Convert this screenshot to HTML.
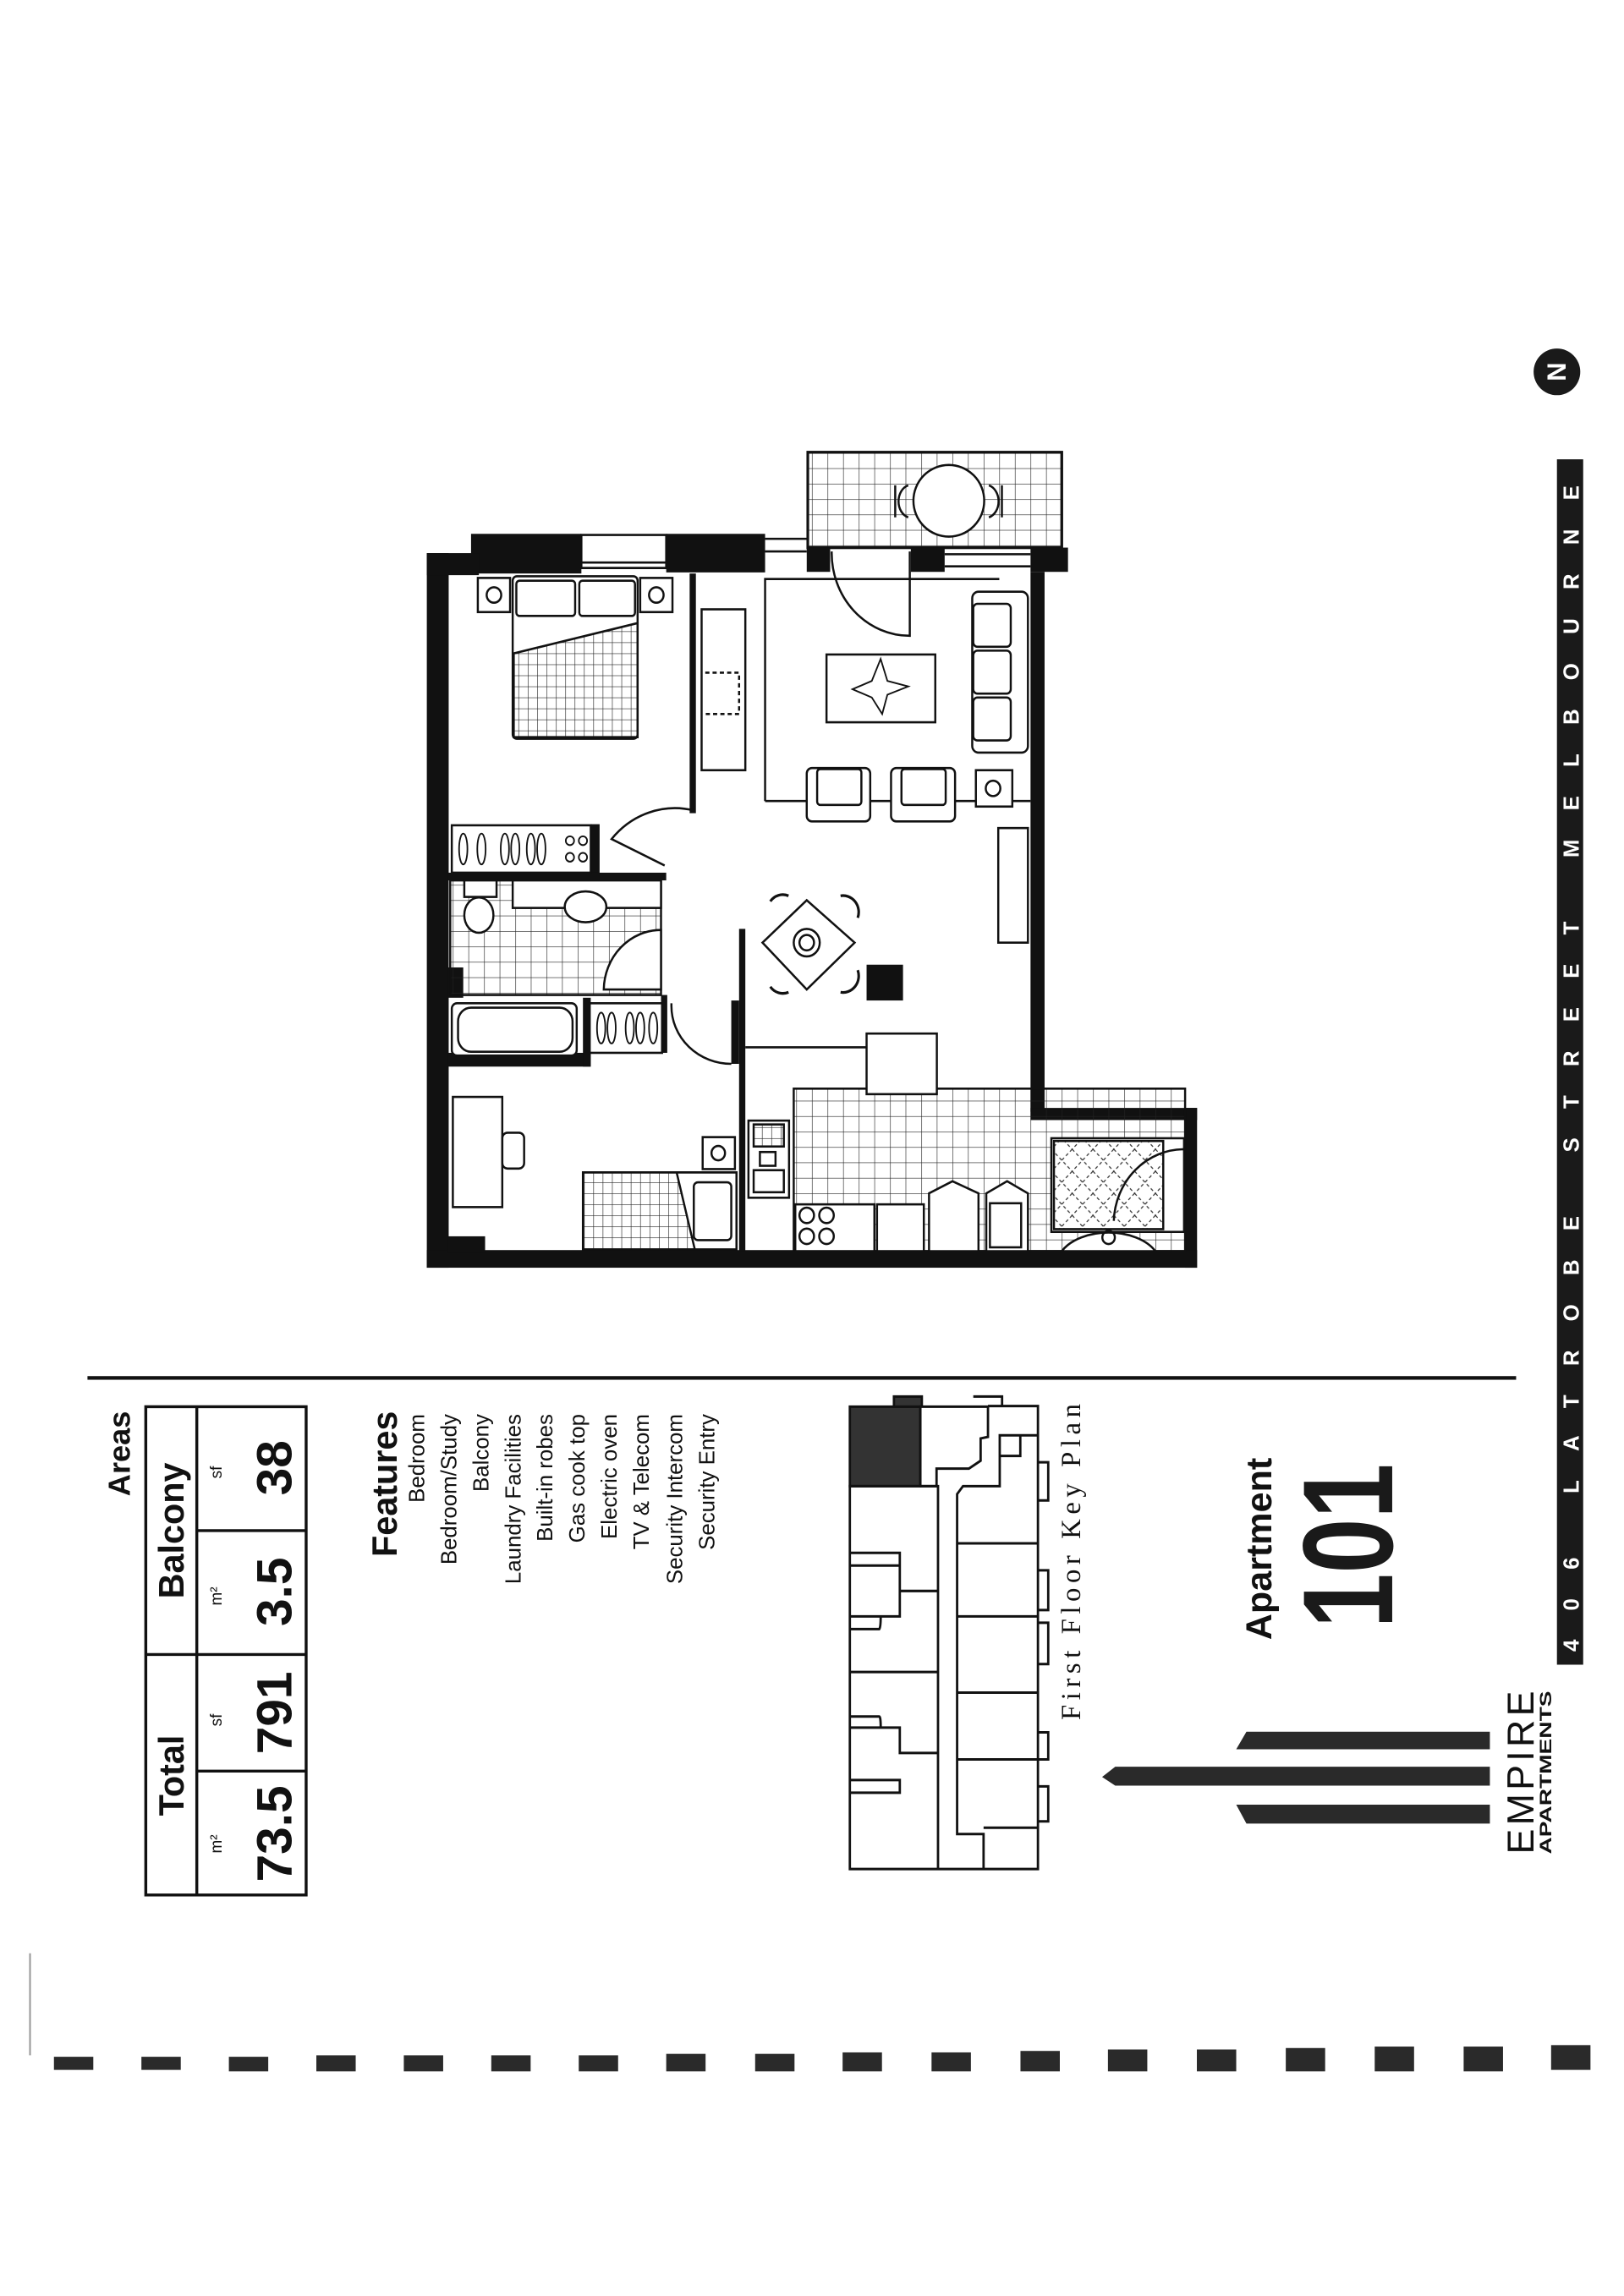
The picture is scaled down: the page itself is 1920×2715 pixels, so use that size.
<!DOCTYPE html>
<html><head><meta charset="utf-8">
<style>html,body{margin:0;padding:0;background:#fff;}svg{display:block;}</style>
</head><body>
<svg width="1920" height="2715" viewBox="0 0 1114 1575" xmlns="http://www.w3.org/2000/svg" font-family="Liberation Sans, DejaVu Sans, sans-serif">
<defs>
<pattern id="g" width="30" height="28" patternUnits="userSpaceOnUse">
<path d="M0 0H30M0 0V28" stroke="#222" stroke-width="2" fill="none"/>
</pattern>
<pattern id="g2" width="18" height="20" patternUnits="userSpaceOnUse">
<path d="M0 0H18M0 0V20" stroke="#222" stroke-width="2" fill="none"/>
</pattern>
<pattern id="x" width="40" height="40" patternUnits="userSpaceOnUse">
<path d="M0 0L40 40M40 0L0 40" stroke="#333" stroke-width="2" stroke-dasharray="6 5" fill="none"/>
</pattern>
</defs>
<rect width="1114" height="1575" fill="#fff"/>

<!-- FLOOR PLAN (zoom coords) -->
<g transform="translate(278.5,289.4) scale(0.357,0.378)" stroke="#111" fill="none" stroke-width="4">
 <rect x="772" y="55" width="488" height="173" fill="url(#g)" stroke-width="5"/>
 <rect x="772" y="55" width="488" height="173" fill="none" stroke-width="5"/>
 <ellipse cx="1043" cy="143" rx="68" ry="65" fill="#fff" stroke-width="4"/>
 <path d="M965 115 a25 30 0 0 0 0 58 M940 115 v58 M1120 115 a25 30 0 0 1 0 58 M1145 115 v58" stroke-width="4"/>
 <g fill="#111" stroke="none">
  <rect x="40" y="238" width="42" height="1297"/>
  <rect x="125" y="203" width="212" height="72"/>
  <rect x="40" y="238" width="100" height="40"/>
  <rect x="500" y="203" width="190" height="70"/>
  <rect x="770" y="228" width="45" height="44"/>
  <rect x="970" y="228" width="65" height="44"/>
  <rect x="1200" y="228" width="72" height="44"/>
  <rect x="1200" y="272" width="27" height="980"/>
  <rect x="1200" y="1245" width="320" height="22"/>
  <rect x="1497" y="1245" width="23" height="290"/>
  <rect x="40" y="1503" width="1480" height="32"/>
  <rect x="80" y="1478" width="72" height="30"/>
  <rect x="545" y="275" width="12" height="435"/>
  <rect x="355" y="730" width="17" height="92"/>
  <rect x="80" y="818" width="420" height="14"/>
  <rect x="80" y="990" width="30" height="55"/>
  <rect x="80" y="1145" width="275" height="25"/>
  <rect x="340" y="1045" width="15" height="125"/>
  <rect x="490" y="1040" width="12" height="105"/>
  <rect x="640" y="920" width="12" height="585"/>
  <rect x="625" y="1050" width="15" height="115"/>
  <rect x="885" y="985" width="70" height="65"/>
 </g>
 <rect x="337" y="205" width="163" height="60" fill="#fff"/>
 <path d="M337 255H500M337 265H500M1035 240H1200M1035 262H1200M690 212H770M690 235H770"/>
 <rect x="138" y="283" width="62" height="62"/><circle cx="169" cy="314" r="14"/>
 <rect x="450" y="283" width="62" height="62"/><circle cx="481" cy="314" r="14"/>
 <rect x="205" y="280" width="240" height="295" rx="8"/>
 <rect x="212" y="288" width="113" height="64" rx="6"/><rect x="333" y="288" width="107" height="64" rx="6"/>
 <path d="M207 420L445 365V572H207Z" fill="url(#g2)"/>
 <rect x="568" y="340" width="84" height="292"/>
 <path d="M575 455H640V530H575" stroke-dasharray="8 6"/>
 <rect x="88" y="732" width="267" height="86"/>
 <g stroke-width="3"><ellipse cx="110" cy="775" rx="8" ry="28"/><ellipse cx="145" cy="775" rx="8" ry="28"/><ellipse cx="190" cy="775" rx="8" ry="28"/><ellipse cx="210" cy="775" rx="8" ry="28"/><ellipse cx="240" cy="775" rx="8" ry="28"/><ellipse cx="260" cy="775" rx="8" ry="28"/><circle cx="315" cy="760" r="8"/><circle cx="340" cy="760" r="8"/><circle cx="315" cy="790" r="8"/><circle cx="340" cy="790" r="8"/></g>
 <path d="M553 705A160 160 0 0 0 395 757L497 805"/>
 <rect x="85" y="832" width="405" height="208" fill="url(#g)"/>
 <rect x="205" y="832" width="285" height="50" fill="#fff"/>
 <ellipse cx="345" cy="880" rx="40" ry="28" fill="#fff"/>
 <rect x="112" y="832" width="62" height="30" fill="#fff"/><ellipse cx="140" cy="895" rx="28" ry="32" fill="#fff"/>
 <path d="M380 1030A110 110 0 0 1 490 922V1030Z" fill="#fff"/>
 <rect x="88" y="1055" width="240" height="95" rx="10" fill="#fff"/>
 <rect x="100" y="1063" width="220" height="80" rx="25"/>
 <rect x="352" y="1055" width="140" height="90"/>
 <g stroke-width="3"><ellipse cx="375" cy="1100" rx="8" ry="28"/><ellipse cx="395" cy="1100" rx="8" ry="28"/><ellipse cx="430" cy="1100" rx="8" ry="28"/><ellipse cx="450" cy="1100" rx="8" ry="28"/><ellipse cx="475" cy="1100" rx="8" ry="28"/></g>
 <path d="M510 1055V1060A115 105 0 0 0 625 1165"/>
 <path d="M690 688V285H1140"/>
 <path d="M818 235A150 150 0 0 0 968 388V235"/>
 <rect x="808" y="422" width="209" height="123"/>
 <path d="M912 430L925 470L965 480L925 495L915 530L895 500L858 485L895 470Z" stroke-width="3"/>
 <rect x="1088" y="308" width="107" height="292" rx="12" fill="#fff"/>
 <rect x="1090" y="330" width="72" height="78" rx="8"/><rect x="1090" y="415" width="72" height="78" rx="8"/><rect x="1090" y="500" width="72" height="78" rx="8"/>
 <path d="M690 688H770M892 688H932M1055 688H1095M1165 688H1200"/>
 <rect x="770" y="628" width="122" height="97" rx="10" fill="#fff"/><rect x="790" y="630" width="85" height="65" rx="6"/>
 <rect x="932" y="628" width="123" height="97" rx="10" fill="#fff"/><rect x="952" y="630" width="85" height="65" rx="6"/>
 <rect x="1095" y="632" width="70" height="66"/><circle cx="1128" cy="665" r="14"/>
 <rect x="1138" y="737" width="57" height="208"/>
 <path d="M700 870A30 30 0 0 1 735 860M700 1025A30 30 0 0 0 735 1035M835 860A30 30 0 0 1 868 900M835 1035A30 30 0 0 0 868 995" stroke-width="5"/>
 <path d="M770 868L862 945L770 1030L685 945Z" fill="#fff"/>
 <circle cx="770" cy="945" r="25"/><circle cx="770" cy="945" r="14"/>
 <path d="M652 1135H885"/>
 <rect x="745" y="1210" width="752" height="295" fill="url(#g)"/>
 <rect x="885" y="1110" width="135" height="110" fill="#fff"/>
 <rect x="658" y="1268" width="78" height="140"/><rect x="668" y="1275" width="58" height="40" fill="url(#g2)"/><rect x="680" y="1325" width="30" height="25"/><rect x="668" y="1358" width="58" height="40"/>
 <rect x="748" y="1420" width="152" height="85" fill="#fff"/>
 <circle cx="770" cy="1440" r="14"/><circle cx="808" cy="1440" r="14"/><circle cx="770" cy="1478" r="14"/><circle cx="808" cy="1478" r="14"/>
 <rect x="905" y="1420" width="90" height="85" fill="#fff"/>
 <path d="M1005 1505V1400L1050 1378L1100 1400V1505Z M1115 1505V1400L1155 1378L1195 1400V1505Z" fill="#fff"/>
 <rect x="1122" y="1418" width="60" height="80"/>
 <rect x="1240" y="1300" width="255" height="170" fill="#fff"/>
 <rect x="1245" y="1305" width="210" height="160" fill="url(#x)"/>
 <path d="M1360 1450A135 135 0 0 1 1495 1320"/>
 <path d="M1260 1505A100 60 0 0 1 1440 1505Z" fill="#fff"/><circle cx="1350" cy="1480" r="12"/>
 <rect x="90" y="1225" width="95" height="200"/>
 <rect x="185" y="1290" width="42" height="65" rx="10"/>
 <rect x="570" y="1298" width="62" height="58"/><circle cx="600" cy="1327" r="13"/>
 <rect x="340" y="1362" width="295" height="140" fill="url(#g2)"/>
 <path d="M520 1362H635V1502H555Z" fill="#fff"/>
 <rect x="340" y="1362" width="295" height="140"/>
 <rect x="553" y="1380" width="72" height="105" rx="8"/>
</g>

<rect x="60" y="944" width="980" height="2.5" fill="#111"/>

<rect x="1068" y="315" width="18" height="827" fill="#1a1a1a"/>
<text transform="translate(1083,1133) rotate(-90)" fill="#fff" font-size="15" font-weight="bold" textLength="800" lengthAdjust="spacing" font-family="Liberation Sans Narrow, Liberation Sans, sans-serif">406 LATROBE STREET MELBOURNE</text>
<circle cx="1068" cy="255" r="16" fill="#1a1a1a"/>
<text transform="translate(1074,255) rotate(-90)" fill="#fff" font-size="18" font-weight="bold" text-anchor="middle">N</text>

<text transform="translate(89,968) rotate(-90)" font-size="21" font-weight="bold" text-anchor="end" fill="#111">Areas</text>
<g stroke="#111" stroke-width="2" fill="none">
 <rect x="100" y="965" width="110" height="335"/>
 <path d="M135 965V1300M100 1135H210M135 1215H210M135 1050H210"/>
</g>
<g fill="#111">
<text transform="translate(126,1218) rotate(-90)" font-size="24" font-weight="bold" text-anchor="middle">Total</text>
<text transform="translate(126,1050) rotate(-90)" font-size="24" font-weight="bold" text-anchor="middle">Balcony</text>
<text transform="translate(152,1265) rotate(-90)" font-size="11" text-anchor="middle">m²</text>
<text transform="translate(152,1180) rotate(-90)" font-size="11" text-anchor="middle">sf</text>
<text transform="translate(152,1095) rotate(-90)" font-size="11" text-anchor="middle">m²</text>
<text transform="translate(152,1010) rotate(-90)" font-size="11" text-anchor="middle">sf</text>
<text transform="translate(200,1258) rotate(-90)" font-size="34" font-weight="bold" text-anchor="middle">73.5</text>
<text transform="translate(200,1175) rotate(-90)" font-size="34" font-weight="bold" text-anchor="middle">791</text>
<text transform="translate(200,1092) rotate(-90)" font-size="34" font-weight="bold" text-anchor="middle">3.5</text>
<text transform="translate(200,1007) rotate(-90)" font-size="34" font-weight="bold" text-anchor="middle">38</text>
</g>

<g fill="#111" font-family="Liberation Sans Narrow, Liberation Sans, sans-serif" text-anchor="end">
<text transform="translate(272,968) rotate(-90)" font-size="24" font-weight="bold" font-family="Liberation Sans, sans-serif">Features</text>
<text transform="translate(291,970) rotate(-90)" font-size="15">Bedroom</text>
<text transform="translate(313,970) rotate(-90)" font-size="15">Bedroom/Study</text>
<text transform="translate(335,970) rotate(-90)" font-size="15">Balcony</text>
<text transform="translate(357,970) rotate(-90)" font-size="15">Laundry Facilities</text>
<text transform="translate(379,970) rotate(-90)" font-size="15">Built-in robes</text>
<text transform="translate(401,970) rotate(-90)" font-size="15">Gas cook top</text>
<text transform="translate(423,970) rotate(-90)" font-size="15">Electric oven</text>
<text transform="translate(445,970) rotate(-90)" font-size="15">TV &amp; Telecom</text>
<text transform="translate(468,970) rotate(-90)" font-size="15">Security Intercom</text>
<text transform="translate(490,970) rotate(-90)" font-size="15">Security Entry</text>
</g>

<g transform="translate(562.8,941) scale(0.2016,0.218)" stroke="#111" stroke-width="8" fill="none">
 <path d="M100 110H340V360H100Z" fill="#333"/>
 <path d="M250 78H345V110H250Z" fill="#333"/>
 <path d="M340 110H570V205L545 210V280L505 305H395V360H340Z" fill="#fff"/>
 <path d="M520 78H618V108"/>
 <path d="M570 108H740V1565H100V360H400V1565M100 570H270V690H400M100 610H270M100 770H270V690M100 810H200Q205 805 205 770M100 945H400M100 1085H200Q205 1085 205 1120M100 1120H270V1200H400M100 1285H270V1325H100"/>
 <path d="M740 200H610V265H680V200M610 265V360H485L465 385V1455H555V1565M555 1435H740M465 540H740M465 770H740M465 1010H740M465 1220H740"/>
 <path d="M740 285H775V405H740M740 625H775V750H740M740 790H775V920H740M740 1135H775V1220H740M740 1305H775V1415H740"/>
</g>
<text transform="translate(741,1180) rotate(-90)" font-size="19" font-family="Liberation Serif, serif" fill="#111" textLength="218" lengthAdjust="spacing" letter-spacing="1">First Floor Key Plan</text>

<text transform="translate(872,1125) rotate(-90)" font-size="25" font-weight="bold" fill="#111">Apartment</text>
<text transform="translate(955,1117) rotate(-90)" font-size="88" font-weight="bold" fill="#1a1a1a" textLength="113" lengthAdjust="spacingAndGlyphs" font-family="Liberation Sans Narrow, Liberation Sans, sans-serif">101</text>

<g fill="#2a2a2a">
 <path d="M855 1188H1022V1200H848Z"/>
 <path d="M765 1212H1022V1225H765L756 1219Z"/>
 <path d="M848 1238H1022V1251H855Z"/>
</g>
<text transform="translate(1052,1272) rotate(-90)" font-size="26" fill="#111" textLength="112" lengthAdjust="spacing">EMPIRE</text>
<text transform="translate(1064,1272) rotate(-90)" font-size="11" font-weight="bold" fill="#111" textLength="112" lengthAdjust="spacingAndGlyphs">APARTMENTS</text>

<g fill="#2a2a2a">
<rect x="37" y="1411" width="27" height="9"/><rect x="97" y="1411" width="27" height="9"/><rect x="157" y="1411" width="27" height="10"/><rect x="217" y="1410" width="27" height="11"/><rect x="277" y="1410" width="27" height="11"/><rect x="337" y="1410" width="27" height="11"/><rect x="397" y="1410" width="27" height="11"/><rect x="457" y="1409" width="27" height="12"/><rect x="518" y="1409" width="27" height="12"/><rect x="578" y="1408" width="27" height="13"/><rect x="639" y="1408" width="27" height="13"/><rect x="700" y="1407" width="27" height="14"/><rect x="760" y="1406" width="27" height="15"/><rect x="821" y="1406" width="27" height="15"/><rect x="882" y="1405" width="27" height="16"/><rect x="943" y="1404" width="27" height="17"/><rect x="1004" y="1404" width="27" height="17"/><rect x="1064" y="1403" width="27" height="17"/>
</g>
<rect x="20" y="1340" width="1.2" height="70" fill="#999"/>
</svg>
</body></html>
